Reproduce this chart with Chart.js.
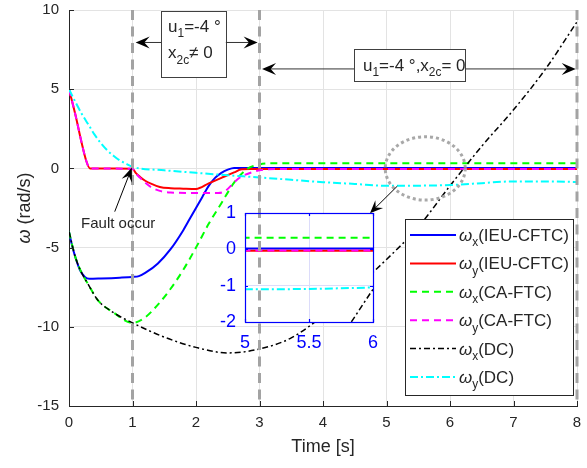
<!DOCTYPE html>
<html>
<head>
<meta charset="utf-8">
<script src="https://cdn.jsdelivr.net/npm/chart.js@4.4.1/dist/chart.umd.min.js"></script>
<style>
  html, body { margin: 0; padding: 0; background: #fff; }
  #wrap { position: relative; width: 587px; height: 468px; overflow: hidden; }
  #main { position: absolute; left: 0px; top: -30px; }
  #inset { position: absolute; left: 140px; top: 160px; }
</style>
</head>
<body>
<div id="wrap">
  <canvas id="main" width="607" height="498"></canvas>
  <canvas id="inset" width="270" height="215"></canvas>
</div>
<script>
// ---- data ----
const timeBlue = [0, 0.05, 0.1, 0.17, 0.25, 0.32, 0.5, 0.8, 1.0, 1.1, 1.2, 1.4, 1.6, 1.8, 1.9, 2.0, 2.1, 2.2, 2.3, 2.4, 2.5, 2.6, 2.75, 3, 8];
const wxIEU    = [-4, -4.9, -5.6, -6.4, -6.85, -6.97, -6.95, -6.9, -6.85, -6.8, -6.6, -6.0, -5.1, -3.9, -3.2, -2.5, -1.8, -1.1, -0.6, -0.28, -0.08, 0.03, 0.03, 0.02, 0.02];

const timeRed  = [0, 0.1, 0.2, 0.27, 0.33, 1.0, 1.05, 1.12, 1.2, 1.3, 1.43, 1.6, 1.8, 2.0, 2.2, 2.4, 2.6, 2.72, 2.85, 8];
const wyIEU    = [5, 3.4, 1.6, 0.5, 0, -0.02, -0.28, -0.54, -0.78, -0.98, -1.17, -1.25, -1.28, -1.3, -0.95, -0.6, -0.25, -0.06, -0.04, -0.04];

const timeGreen = [0, 0.1, 0.2, 0.3, 0.45, 0.7, 1.0, 1.2, 1.4, 1.6, 1.8, 2.0, 2.2, 2.4, 2.6, 2.8, 3.0, 3.2, 8];
const wxCA      = [-4, -5.6, -6.6, -7.3, -8.3, -9.1, -9.75, -9.4, -8.6, -7.6, -6.4, -5.0, -3.5, -2.2, -0.9, -0.05, 0.25, 0.32, 0.32];

const timeMagenta = [0, 0.1, 0.2, 0.27, 0.33, 1.0, 1.05, 1.12, 1.2, 1.3, 1.43, 1.6, 2.0, 2.35, 2.45, 2.55, 2.65, 2.75, 2.9, 3.1, 3.3, 8];
const wyCA        = [5, 3.4, 1.6, 0.5, 0, -0.02, -0.3, -0.6, -0.9, -1.2, -1.42, -1.52, -1.55, -1.55, -1.45, -1.1, -0.7, -0.45, -0.22, -0.06, -0.03, -0.03];

const timeBlack = [0, 0.1, 0.2, 0.3, 0.45, 0.7, 1.0, 1.5, 2.0, 2.5, 3.0, 3.5, 4.0, 4.5, 5.0, 5.5, 6.0, 6.5, 7.0, 7.5, 8.0];
const wxDC      = [-4, -5.6, -6.6, -7.3, -8.3, -9.1, -9.75, -10.65, -11.3, -11.65, -11.4, -10.7, -9.3, -7.6, -5.75, -3.7, -1.1, 1.4, 3.7, 6.25, 9.25];

const timeCyan = [0, 0.1, 0.2, 0.3, 0.4, 0.5, 0.6, 0.7, 0.8, 0.9, 1.0, 1.5, 2.0, 2.5, 3.0, 3.5, 4.0, 4.5, 5.0, 5.5, 6.0, 6.5, 7.0, 7.5, 8.0];
const wyDC     = [5, 4.2, 3.45, 2.8, 2.15, 1.6, 1.15, 0.8, 0.5, 0.3, 0.1, -0.12, -0.28, -0.43, -0.57, -0.72, -0.87, -0.98, -1.1, -1.09, -1.05, -0.93, -0.82, -0.82, -0.86];

const seriesAxis   = ['x', 'y', 'x', 'y', 'x', 'y'];
const seriesMethod = ['IEU-CFTC', 'IEU-CFTC', 'CA-FTC', 'CA-FTC', 'DC', 'DC'];
const eventTimes   = [1, 3, 8];

const series = [
  { t: timeBlue, v: wxIEU },
  { t: timeRed, v: wyIEU },
  { t: timeGreen, v: wxCA },
  { t: timeMagenta, v: wyCA },
  { t: timeBlack, v: wxDC },
  { t: timeCyan, v: wyDC }
];

const styles = [
  { color: '#0000ff', width: 2,   dash: [] },
  { color: '#ff0000', width: 2,   dash: [] },
  { color: '#00ff00', width: 2,   dash: [7, 5] },
  { color: '#ff00ff', width: 2,   dash: [7, 5] },
  { color: '#000000', width: 1.5, dash: [6, 3, 2, 3] },
  { color: '#00ffff', width: 2,   dash: [8, 3, 2, 3] }
];

const FONT = '"Liberation Sans", Arial, Helvetica, sans-serif';
const INK = '#262626';

// target plot rectangles (page pixels) and canvas offsets on the page
const MAIN_AREA  = { left: 69, top: 10, right: 577, bottom: 406 };
const INSET_AREA = { left: 245, top: 213, right: 373, bottom: 322 };
const mainOff  = { x: 0, y: -30 };
const insetOff = { x: 140, y: 160 };

function makeDatasets() {
  return series.map((s, i) => ({
    label: 'ω' + seriesAxis[i] + '(' + seriesMethod[i] + ')',
    data: s.t.map((t, k) => ({ x: t, y: s.v[k] })),
    borderColor: styles[i].color,
    borderWidth: styles[i].width,
    borderDash: styles[i].dash,
    pointRadius: 0,
    fill: false,
    cubicInterpolationMode: 'monotone',
    order: 6 - i
  }));
}

// rich text: parts = [{t, it, sub}], y is baseline
function richText(ctx, parts, x, y, size) {
  parts.forEach(p => {
    const s = p.sub ? size * 0.7 : size;
    ctx.font = (p.it ? 'italic ' : '') + s + 'px ' + FONT;
    ctx.fillText(p.t, x, y + (p.sub ? size * 0.32 : 0));
    x += ctx.measureText(p.t).width;
  });
  return x;
}
function richWidth(ctx, parts, size) {
  let w = 0;
  parts.forEach(p => {
    const s = p.sub ? size * 0.7 : size;
    ctx.font = (p.it ? 'italic ' : '') + s + 'px ' + FONT;
    w += ctx.measureText(p.t).width;
  });
  return w;
}

function arrow(ctx, x1, y1, x2, y2, len, wid) {
  len = len || 13; wid = wid || 5.5;
  const a = Math.atan2(y2 - y1, x2 - x1);
  ctx.beginPath();
  ctx.moveTo(x1, y1);
  ctx.lineTo(x2 - Math.cos(a) * len * 0.6, y2 - Math.sin(a) * len * 0.6);
  ctx.stroke();
  ctx.save();
  ctx.translate(x2, y2);
  ctx.rotate(a);
  ctx.beginPath();
  ctx.moveTo(0, 0);
  ctx.lineTo(-len, -wid);
  ctx.lineTo(-len * 0.62, 0);
  ctx.lineTo(-len, wid);
  ctx.closePath();
  ctx.fill();
  ctx.restore();
}

const decor = {
  id: 'decor',
  afterDatasetsDraw(chart) {
    const ctx = chart.ctx;
    const xs = chart.scales.x, ys = chart.scales.y;
    const area = chart.chartArea;
    const X = v => xs.getPixelForValue(v), Y = v => ys.getPixelForValue(v);
    ctx.save();

    // inward tick marks
    ctx.strokeStyle = INK; ctx.lineWidth = 1;
    ctx.beginPath();
    xs.ticks.forEach(t => { const p = Math.round(X(t.value)) + 0.5; ctx.moveTo(p, area.bottom); ctx.lineTo(p, area.bottom - 5); });
    ys.ticks.forEach(t => { const p = Math.round(Y(t.value)) + 0.5; ctx.moveTo(area.left, p); ctx.lineTo(area.left + 5, p); });
    ctx.stroke();

    // event lines
    ctx.strokeStyle = '#a3a3a3'; ctx.lineWidth = 3; ctx.setLineDash([10, 6.5]);
    eventTimes.forEach(t => {
      ctx.beginPath(); ctx.moveTo(X(t), area.top); ctx.lineTo(X(t), area.bottom); ctx.stroke();
    });

    // zoom circle
    ctx.setLineDash([3, 3]); ctx.lineWidth = 3; ctx.strokeStyle = '#a8a8a8';
    ctx.beginPath();
    ctx.ellipse(X(5.61), Y(0), X(6.24) - X(5.61), Y(-2) - Y(0), 0, 0, Math.PI * 2);
    ctx.stroke();
    ctx.setLineDash([]);

    // arrow circle -> inset
    ctx.strokeStyle = '#000'; ctx.fillStyle = '#000'; ctx.lineWidth = 1;
    arrow(ctx, X(5.17), Y(-1.12), X(4.74), Y(-2.83), 13, 5.5);

    // fault occur
    arrow(ctx, X(0.72), Y(-2.73), X(0.99), Y(0.05), 14, 5.5);
    ctx.fillStyle = INK;
    ctx.font = '15px ' + FONT; ctx.textAlign = 'left'; ctx.textBaseline = 'alphabetic';
    ctx.fillText('Fault occur', X(0.19), Y(-3.78));

    // box 1
    ctx.strokeStyle = '#404040'; ctx.lineWidth = 1;
    const b1 = { l: X(1.45), r: X(2.47), t: Y(9.95), b: Y(5.77) };
    ctx.fillStyle = '#fff';
    ctx.fillRect(b1.l, b1.t, b1.r - b1.l, b1.b - b1.t);
    ctx.strokeRect(Math.round(b1.l) + 0.5, Math.round(b1.t) + 0.5, Math.round(b1.r - b1.l), Math.round(b1.b - b1.t));
    ctx.fillStyle = '#000';
    const ay1 = Y(7.95);
    ctx.strokeStyle = '#333';
    arrow(ctx, b1.l, ay1, X(1.05), ay1, 14, 6);
    arrow(ctx, b1.r, ay1, X(2.97), ay1, 14, 6);
    ctx.fillStyle = INK;
    richText(ctx, [{ t: 'u' }, { t: '1', sub: true }, { t: '=-4 °' }], X(1.56), Y(8.63), 17);
    richText(ctx, [{ t: 'x' }, { t: '2c', sub: true }, { t: '≠ 0' }], X(1.56), Y(6.95), 17);

    // box 2
    const b2 = { l: X(4.49), r: X(6.24), t: Y(7.52), b: Y(5.47) };
    ctx.fillStyle = '#fff';
    ctx.fillRect(b2.l, b2.t, b2.r - b2.l, b2.b - b2.t);
    ctx.strokeStyle = '#404040';
    ctx.strokeRect(Math.round(b2.l) + 0.5, Math.round(b2.t) + 0.5, Math.round(b2.r - b2.l), Math.round(b2.b - b2.t));
    const ay2 = Y(6.28);
    ctx.fillStyle = '#000'; ctx.strokeStyle = '#333';
    arrow(ctx, b2.l, ay2, X(3.04), ay2, 14, 6);
    arrow(ctx, b2.r, ay2, X(7.98), ay2, 14, 6);
    ctx.fillStyle = INK;
    richText(ctx, [{ t: 'u' }, { t: '1', sub: true }, { t: '=-4 °,x' }, { t: '2c', sub: true }, { t: '= 0' }], X(4.63), Y(6.15), 17);

    // from here on: page coordinates
    ctx.translate(-mainOff.x, -mainOff.y);

    // legend
    const lg = { l: 405, t: 219, r: 573, b: 395 };
    ctx.fillStyle = '#fff';
    ctx.fillRect(lg.l, lg.t, lg.r - lg.l, lg.b - lg.t);
    ctx.strokeStyle = INK; ctx.lineWidth = 1;
    ctx.strokeRect(lg.l + 0.5, lg.t + 0.5, lg.r - lg.l, lg.b - lg.t);
    chart.data.datasets.forEach((ds, i) => {
      const cy = lg.t + 16 + i * 28.4;
      ctx.strokeStyle = ds.borderColor; ctx.lineWidth = ds.borderWidth;
      ctx.setLineDash(ds.borderDash);
      ctx.beginPath(); ctx.moveTo(410, cy); ctx.lineTo(456, cy); ctx.stroke();
      ctx.setLineDash([]);
      ctx.fillStyle = INK;
      richText(ctx, [{ t: 'ω', it: true }, { t: seriesAxis[i], sub: true }, { t: '(' + seriesMethod[i] + ')' }], 459, cy + 6, 17);
    });

    // axis titles
    ctx.fillStyle = INK;
    ctx.font = '18px ' + FONT; ctx.textAlign = 'center'; ctx.textBaseline = 'middle';
    ctx.fillText('Time [s]', (MAIN_AREA.left + MAIN_AREA.right) / 2, 447);
    ctx.save();
    ctx.translate(24, (MAIN_AREA.top + MAIN_AREA.bottom) / 2);
    ctx.rotate(-Math.PI / 2);
    ctx.textAlign = 'left'; ctx.textBaseline = 'alphabetic';
    const tp = [{ t: 'ω', it: true }, { t: ' (rad/s)' }];
    const w = richWidth(ctx, tp, 18);
    richText(ctx, tp, -w / 2, 6, 18);
    ctx.restore();

    ctx.restore();
  }
};

const mainPadding = { left: 0, right: 30, top: 40, bottom: 0 };
const mainChart = new Chart(document.getElementById('main'), {
  type: 'line',
  data: { datasets: makeDatasets() },
  options: {
    responsive: false,
    animation: false,
    devicePixelRatio: 1,
    layout: { padding: mainPadding },
    plugins: { legend: { display: false }, tooltip: { enabled: false } },
    scales: {
      x: {
        type: 'linear', min: 0, max: 8,
        ticks: { stepSize: 1, color: INK, font: { family: FONT, size: 15 }, padding: 8, maxRotation: 0 },
        grid: { color: '#e3e3e3', drawTicks: false },
        border: { color: INK, width: 1 },
        afterFit: s => { s.height = 62; }
      },
      y: {
        min: -15, max: 10,
        ticks: { stepSize: 5, color: INK, font: { family: FONT, size: 15 }, padding: 10 },
        grid: { color: '#e3e3e3', drawTicks: false },
        border: { color: INK, width: 1 },
        afterFit: s => { s.width = 69; }
      }
    }
  },
  plugins: [decor]
});

// nudge layout padding so the plot area lands on the target rectangle
function fitPadding(chart, pad, target, off) {
  for (let k = 0; k < 3; k++) {
    const a = chart.chartArea;
    pad.left += (target.left - off.x) - a.left;
    pad.top += (target.top - off.y) - a.top;
    pad.right += a.right - (target.right - off.x);
    pad.bottom += a.bottom - (target.bottom - off.y);
    chart.options.layout.padding = Object.assign({}, pad);
    chart.update('none');
  }
}
fitPadding(mainChart, mainPadding, MAIN_AREA, mainOff);

const insetDecor = {
  id: 'insetDecor',
  beforeDraw(chart) {
    const a = chart.chartArea, ctx = chart.ctx;
    ctx.save(); ctx.fillStyle = '#fff';
    ctx.fillRect(a.left, a.top, a.right - a.left, a.bottom - a.top);
    ctx.restore();
  },
  afterDraw(chart) {
    const a = chart.chartArea, ctx = chart.ctx;
    const xs = chart.scales.x, ys = chart.scales.y;
    ctx.save();
    // event line at t=3 of the main plot passes over the inset
    const ma = mainChart.chartArea;
    const dx = mainOff.x - insetOff.x, dy = mainOff.y - insetOff.y;
    ctx.beginPath(); ctx.rect(a.left, a.top, a.right - a.left, a.bottom - a.top); ctx.clip();
    ctx.strokeStyle = '#a3a3a3'; ctx.lineWidth = 3; ctx.setLineDash([10, 6.5]);
    eventTimes.forEach(t => {
      const px = mainChart.scales.x.getPixelForValue(t) + dx;
      ctx.beginPath(); ctx.moveTo(px, ma.top + dy); ctx.lineTo(px, ma.bottom + dy); ctx.stroke();
    });
    ctx.restore();
    ctx.save();
    ctx.strokeStyle = '#0000ff'; ctx.lineWidth = 1.2;
    ctx.strokeRect(Math.round(a.left) + 0.5, Math.round(a.top) + 0.5, Math.round(a.right - a.left), Math.round(a.bottom - a.top));
    ctx.beginPath();
    xs.ticks.forEach(t => { const p = Math.round(xs.getPixelForValue(t.value)) + 0.5; ctx.moveTo(p, a.bottom); ctx.lineTo(p, a.bottom - 3); ctx.moveTo(p, a.top); ctx.lineTo(p, a.top + 3); });
    ys.ticks.forEach(t => { const p = Math.round(ys.getPixelForValue(t.value)) + 0.5; ctx.moveTo(a.left, p); ctx.lineTo(a.left + 3, p); ctx.moveTo(a.right, p); ctx.lineTo(a.right - 3, p); });
    ctx.stroke();
    ctx.restore();
  }
};

const insetPadding = { left: 50, right: 37, top: 53, bottom: 15 };
const insetChart = new Chart(document.getElementById('inset'), {
  type: 'line',
  data: { datasets: makeDatasets() },
  options: {
    responsive: false,
    animation: false,
    devicePixelRatio: 1,
    layout: { padding: insetPadding },
    plugins: { legend: { display: false }, tooltip: { enabled: false } },
    scales: {
      x: {
        type: 'linear', min: 5, max: 6,
        ticks: { stepSize: 0.5, color: '#0000ff', font: { family: FONT, size: 18 }, padding: 10, maxRotation: 0, callback: v => String(v) },
        grid: { color: '#dcdcfa', drawTicks: false },
        border: { color: '#0000ff', width: 1 },
        afterFit: s => { s.height = 38; }
      },
      y: {
        min: -2, max: 1,
        ticks: { stepSize: 1, color: '#0000ff', font: { family: FONT, size: 18 }, padding: 9 },
        grid: { color: '#dcdcfa', drawTicks: false },
        border: { color: '#0000ff', width: 1 },
        afterFit: s => { s.width = 55; }
      }
    }
  },
  plugins: [insetDecor]
});
fitPadding(insetChart, insetPadding, INSET_AREA, insetOff);
</script>
</body>
</html>
